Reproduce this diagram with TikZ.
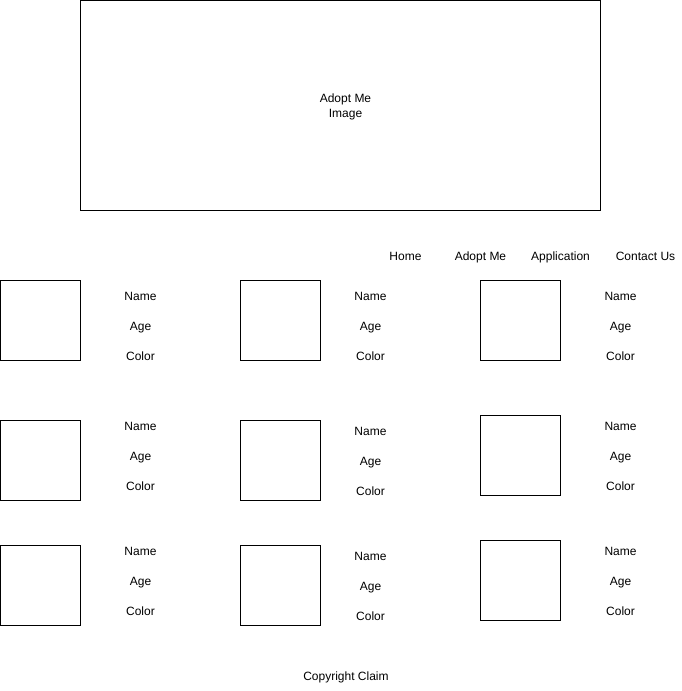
\documentclass[tikz,border=0pt]{standalone}
\usepackage{fontspec}
\setmainfont{Liberation Sans}
\begin{document}
\begin{tikzpicture}[x=1pt,y=-1pt,
  box/.style={draw=black,line width=1pt,fill=white},
  lbl/.style={font=\fontsize{12}{15}\selectfont,inner sep=0pt,anchor=center,text=black,text height=8.6pt,text depth=2.6pt}]
\useasboundingbox[fill=white] (0,0) rectangle (681,691);
% header image
\draw[box] (80.5,0.5) rectangle (600.5,210.5);
\node[lbl,align=center] (hero) at (345.5,114) {Adopt Me\\Image};
% nav
\node[lbl] (home) at (405.5,257) {Home};
\node[lbl] (adopt) at (480.5,257) {Adopt Me};
\node[lbl] (app) at (560.5,257) {Application};
\node[lbl] (contact) at (645.5,257) {Contact Us};
% pet boxes: x, top y, label x, label top y
\foreach \i/\bx/\by/\lx/\ly in {
  a/0.5/280.5/140.5/297, b/240.5/280.5/370.5/297, c/480.5/280.5/620.5/297,
  d/0.5/420.5/140.5/427, e/240.5/420.5/370.5/432, f/480.5/415.5/620.5/427,
  g/0.5/545.5/140.5/552, h/240.5/545.5/370.5/557, k/480.5/540.5/620.5/552}{
  \draw[box] (\bx,\by) rectangle ++(80,80);
  \node[lbl] (name\i) at (\lx,\ly) {Name};
  \node[lbl] (age\i) at (\lx,\ly+30) {Age};
  \node[lbl] (color\i) at (\lx,\ly+60) {Color};
}
\node[lbl] (copy) at (346,677) {Copyright Claim};
\end{tikzpicture}
\end{document}
